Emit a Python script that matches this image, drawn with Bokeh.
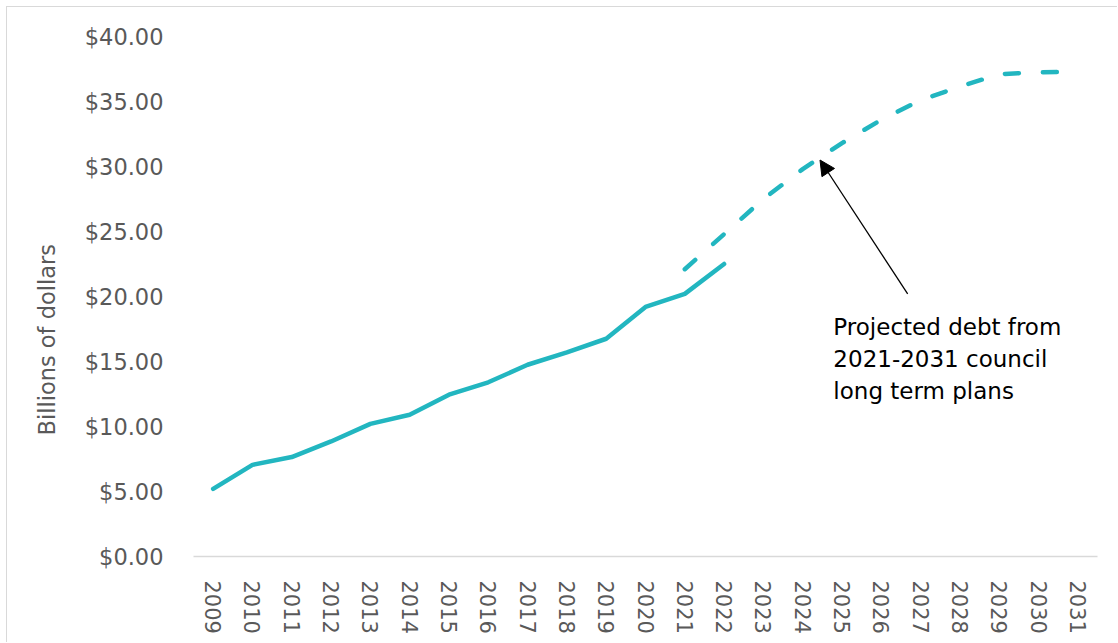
from bokeh.plotting import figure
from bokeh.models import (FactorRange, FixedTicker, NumeralTickFormatter,
                          Arrow, NormalHead, Label, Title)
from bokeh.embed import file_html
from bokeh.resources import INLINE

# Council debt, billions of dollars
years = [str(y) for y in range(2009, 2032)]
actual_years = years[:14]          # 2009-2022
actual_debt = [5.2, 7.05, 7.65, 8.85, 10.2, 10.9, 12.45, 13.4, 14.75,
               15.7, 16.75, 19.2, 20.2, 22.5]
projected_years = years[12:]       # 2021-2031
projected_debt = [22.1, 24.8, 27.5, 29.8, 31.8, 33.6, 35.1, 36.15,
                  37.1, 37.25, 37.3]
y_ticks = [0, 5, 10, 15, 20, 25, 30, 35, 40]

TEAL = "#22B6C0"
GREY = "#595959"
FONT = "DejaVu Sans"

p = figure(x_range=FactorRange(factors=years), y_range=(0, 40),
           width=1111, height=636, output_backend="svg",
           toolbar_location=None,
           min_border_left=186, min_border_right=21,
           min_border_top=29, min_border_bottom=87)
p.styles = {"margin-left": "6px", "margin-top": "6px",
            "border-left": "1px solid #D9D9D9",
            "border-top": "1px solid #D9D9D9"}
p.outline_line_color = None
p.background_fill_color = "white"
p.border_fill_color = "white"
p.xgrid.grid_line_color = None
p.ygrid.grid_line_color = None

# y axis
p.yaxis.ticker = FixedTicker(ticks=y_ticks)
p.yaxis.formatter = NumeralTickFormatter(format="$0.00")
p.yaxis.axis_line_color = None
p.yaxis.major_tick_line_color = None
p.yaxis.minor_tick_line_color = None
p.yaxis.major_label_standoff = 24
p.yaxis.major_label_text_font = FONT
p.yaxis.major_label_text_font_size = "22.5px"
p.yaxis.major_label_text_color = GREY

# y axis title, raised from the bottom of the frame so that it sits
# centred on the chart body (plot plus year labels)
p.add_layout(Title(text="Billions of dollars", align="left",
                   vertical_align="top", offset=121, standoff=40,
                   text_font=FONT, text_font_size="22.5px",
                   text_font_style="normal", text_color=GREY), "left")

# x axis
p.xaxis.axis_line_color = "#D9D9D9"
p.xaxis.axis_line_width = 1.5
p.xaxis.major_tick_line_color = None
p.xaxis.minor_tick_line_color = None
p.xaxis.major_label_orientation = "vertical"
p.xaxis.major_label_standoff = 18
p.xaxis.major_label_text_font = FONT
p.xaxis.major_label_text_font_size = "21px"
p.xaxis.major_label_text_color = GREY

# historical debt (solid) and council projections (dashed)
p.line(actual_years, actual_debt, line_color=TEAL, line_width=4.5,
       line_cap="round", line_join="round")
p.line(projected_years, projected_debt, line_color=TEAL, line_width=4.5,
       line_cap="round", line_join="round", line_dash="14 24")

# annotation pointing at the projected curve
p.add_layout(Arrow(end=NormalHead(size=15, fill_color="black",
                                  line_color="black"),
                   x_start=18.17, y_start=20.2, x_end=15.94, y_end=30.5,
                   line_color="black", line_width=1.3))
p.add_layout(Label(x=16.28, y=18.68,
                   text="Projected debt from\n2021-2031 council\nlong term plans",
                   text_font=FONT, text_font_size="23px", text_color="black",
                   text_baseline="top", text_align="left",
                   text_line_height=1.24))

open("out.html", "w").write(file_html(p, INLINE))
